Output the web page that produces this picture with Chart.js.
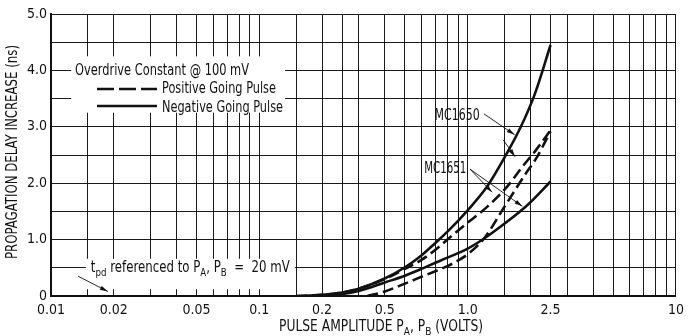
<!DOCTYPE html>
<html><head><meta charset="utf-8">
<script src="https://cdn.jsdelivr.net/npm/chart.js@4.4.1/dist/chart.umd.min.js"></script>
<style>html,body{margin:0;padding:0;background:#fff;}#wrap{width:690px;height:336px;}</style>
</head><body><div id="wrap"><canvas id="c" width="690" height="336"></canvas></div>
<script>
const FONT = '"Liberation Sans Narrow","DejaVu Sans Condensed","Arial Narrow","Liberation Sans",Arial,sans-serif';

// ---- axis values ----
const xGridValues = [0.01,0.015,0.02,0.03,0.04,0.05,0.06,0.07,0.08,0.09,
  0.1,0.15,0.2,0.25,0.3,0.4,0.5,0.6,0.7,0.8,0.9,
  1,1.5,2,2.5,3,4,5,6,7,8,9,10];
// the reference prints "0.5" on the 0.4 gridline
const xTickValues = [0.01,0.02,0.05,0.1,0.2,0.4,1,2.5,10];
const xTickLabels = ['0.01','0.02','0.05','0.1','0.2','0.5','1.0','2.5','10'];
const yTickValues = [0,1,2,3,4,5];
const yTickLabels = ['0','1.0','2.0','3.0','4.0','5.0'];

// ---- series ----
const mc1650NegX = [0.15,0.2,0.25,0.3,0.4,0.5,0.6,0.7,0.8,1.0,1.24,1.5,1.8,2.1,2.5];
const mc1650NegY = [0,0.02,0.06,0.13,0.31,0.51,0.72,0.94,1.14,1.52,1.94,2.45,3.0,3.58,4.45];
const mc1650PosX = [0.15,0.2,0.25,0.3,0.4,0.5,0.6,0.7,0.86,1.0,1.24,1.54,1.82,2.14,2.5];
const mc1650PosY = [0,0.02,0.06,0.13,0.3,0.48,0.64,0.82,1.1,1.3,1.58,1.93,2.28,2.6,2.94];
const mc1651NegX = [0.22,0.3,0.4,0.5,0.6,0.7,0.8,1.0,1.2,1.5,1.92,2.5];
const mc1651NegY = [0,0.09,0.24,0.36,0.48,0.59,0.68,0.84,1.02,1.28,1.6,2.03];
const mc1651PosX = [0.33,0.4,0.5,0.6,0.7,0.8,0.9,1.0,1.2,1.5,1.9,2.14,2.5];
const mc1651PosY = [0,0.08,0.22,0.34,0.44,0.53,0.63,0.74,1.02,1.58,2.17,2.45,2.92];

// ---- annotations (data coordinates) ----
const mc1650Label = {text:'MC1650', x:0.89, y:3.21};
const mc1650Arrows = [[[1.196,3.23],[1.68,2.86]], [[1.48,2.77],[1.69,2.47]]];
const mc1651Label = {text:'MC1651', x:0.78, y:2.27};
const mc1651Arrows = [[[1.026,2.25],[1.31,1.84]], [[1.026,2.25],[1.83,1.59]]];
const tpdArrow = [[0.0135,0.35],[0.01875,0.08]];
const legendBox = {x0:0.0125, x1:0.133, y0:3.25, y1:4.25};
const noteBox = {x0:0.0147, x1:0.148, y0:0.12, y1:0.66};

const pts = (xs, ys) => xs.map((x,i)=>({x, y:ys[i]}));
const lineDs = (label, xs, ys, dashed) => ({
  label, data: pts(xs,ys), borderColor:'#111', borderWidth:2.6,
  borderDash: dashed ? [11,5] : [], pointRadius:0, fill:false,
  cubicInterpolationMode:'monotone', borderCapStyle:'butt'
});

function segWidth(ctx, segs, size){
  let w=0;
  for(const s of segs){ ctx.font = (s.sub? Math.round(size*0.75): size)+'px '+FONT; w+=ctx.measureText(s.t).width; }
  return w;
}
function drawSegs(ctx, segs, x, y, size, targetW, align){
  const nat = segWidth(ctx, segs, size);
  const sc = targetW ? targetW/nat : 1;
  const tot = nat*sc;
  let sx = align==='center' ? x - tot/2 : (align==='right' ? x - tot : x);
  ctx.save();
  ctx.translate(sx, y);
  ctx.scale(sc,1);
  ctx.fillStyle='#111';
  ctx.textBaseline='alphabetic';
  ctx.textAlign='left';
  let cx=0;
  for(const s of segs){
    ctx.font = (s.sub? Math.round(size*0.75): size)+'px '+FONT;
    ctx.fillText(s.t, cx, s.sub ? 4 : 0);
    cx += ctx.measureText(s.t).width;
  }
  ctx.restore();
}
function arrow(ctx, x0,y0,x1,y1){
  ctx.save();
  ctx.strokeStyle='#111'; ctx.fillStyle='#111'; ctx.lineWidth=0.9; ctx.setLineDash([]);
  ctx.beginPath(); ctx.moveTo(x0,y0); ctx.lineTo(x1,y1); ctx.stroke();
  const a=Math.atan2(y1-y0,x1-x0), L=8, W=2.2;
  ctx.beginPath();
  ctx.moveTo(x1,y1);
  ctx.lineTo(x1-L*Math.cos(a)+W*Math.sin(a), y1-L*Math.sin(a)-W*Math.cos(a));
  ctx.lineTo(x1-L*Math.cos(a)-W*Math.sin(a), y1-L*Math.sin(a)+W*Math.cos(a));
  ctx.closePath(); ctx.fill();
  ctx.restore();
}

const decor = {
  id:'decor',
  beforeDatasetsDraw(chart){
    const {ctx, scales:{x,y}} = chart;
    ctx.save(); ctx.fillStyle='#fff';
    for(const b of [legendBox, noteBox]){
      const l=x.getPixelForValue(b.x0), r=x.getPixelForValue(b.x1);
      const t=y.getPixelForValue(b.y1), bt=y.getPixelForValue(b.y0);
      ctx.fillRect(l,t,r-l,bt-t);
    }
    ctx.restore();
  },
  afterDraw(chart){
    const {ctx, chartArea:ca, scales:{x,y}} = chart;
    const P=(v)=>[x.getPixelForValue(v[0]), y.getPixelForValue(v[1])];
    // legend
    drawSegs(ctx,[{t:'Overdrive Constant @ 100 mV'}], ca.left+24, 75, 15, 174, 'left');
    ctx.save(); ctx.strokeStyle='#111'; ctx.lineWidth=2.6;
    ctx.setLineDash([17,5]); ctx.beginPath(); ctx.moveTo(ca.left+46,89); ctx.lineTo(ca.left+106,89); ctx.stroke();
    ctx.setLineDash([]); ctx.beginPath(); ctx.moveTo(ca.left+46,106); ctx.lineTo(ca.left+106,106); ctx.stroke();
    ctx.restore();
    drawSegs(ctx,[{t:'Positive Going Pulse'}], ca.left+111, 93, 15, 114, 'left');
    drawSegs(ctx,[{t:'Negative Going Pulse'}], ca.left+111, 112, 15, 121, 'left');
    // curve labels
    let p=P([mc1650Label.x, mc1650Label.y]);
    drawSegs(ctx,[{t:mc1650Label.text}], p[0], p[1]+5, 15, 45, 'center');
    for(const a of mc1650Arrows){ const s=P(a[0]), e=P(a[1]); arrow(ctx,s[0],s[1],e[0],e[1]); }
    p=P([mc1651Label.x, mc1651Label.y]);
    drawSegs(ctx,[{t:mc1651Label.text}], p[0], p[1]+5, 15, 42, 'center');
    for(const a of mc1651Arrows){ const s=P(a[0]), e=P(a[1]); arrow(ctx,s[0],s[1],e[0],e[1]); }
    // tpd note
    const n0=P([noteBox.x0,0.42]);
    drawSegs(ctx,[{t:'t'},{t:'pd',sub:true},{t:' referenced to P'},{t:'A',sub:true},{t:', P'},{t:'B',sub:true},{t:'  =  20 mV'}], n0[0]+5, n0[1], 15, 199, 'left');
    { const s=P(tpdArrow[0]), e=P(tpdArrow[1]); arrow(ctx,s[0],s[1],e[0],e[1]); }
    // axis titles
    drawSegs(ctx,[{t:'PULSE AMPLITUDE P'},{t:'A',sub:true},{t:', P'},{t:'B',sub:true},{t:' (VOLTS)'}], 381, 331, 15, 204, 'center');
    ctx.save(); ctx.translate(17, (ca.top+ca.bottom)/2 - 3); ctx.rotate(-Math.PI/2);
    drawSegs(ctx,[{t:'PROPAGATION DELAY INCREASE (ns)'}], 0, 0, 15, 214, 'center');
    ctx.restore();
  }
};

new Chart(document.getElementById('c'), {
  type:'line',
  data:{ datasets:[
    lineDs('MC1650 Negative Going Pulse', mc1650NegX, mc1650NegY, false),
    lineDs('MC1650 Positive Going Pulse', mc1650PosX, mc1650PosY, true),
    lineDs('MC1651 Negative Going Pulse', mc1651NegX, mc1651NegY, false),
    lineDs('MC1651 Positive Going Pulse', mc1651PosX, mc1651PosY, true)
  ]},
  options:{
    responsive:false, animation:false, devicePixelRatio:1,
    layout:{padding:{left:0,right:9,top:14,bottom:0}},
    plugins:{legend:{display:false}, tooltip:{enabled:false}},
    scales:{
      x:{ type:'logarithmic', min:0.01, max:10,
        afterBuildTicks:(s)=>{ s.ticks = xGridValues.map(v=>({value:v})); },
        afterFit:(s)=>{ s.height = 40; },
        ticks:{ autoSkip:false, maxRotation:0, minRotation:0, padding:6, color:'#111',
          font:{family:FONT, size:14},
          callback:(v)=>{ const i = xTickValues.findIndex(t=>Math.abs(t-v)<1e-9); return i>=0 ? xTickLabels[i] : ''; } },
        grid:{ color:'#1a1a1a', lineWidth:1, drawTicks:false },
        border:{ color:'#111', width:2 }
      },
      y:{ type:'linear', min:0, max:5,
        afterBuildTicks:(s)=>{ const t=[]; for(let v=0; v<=5.0001; v+=0.5) t.push({value:Math.round(v*10)/10}); s.ticks=t; },
        afterFit:(s)=>{ s.width = 51; },
        ticks:{ padding:4, color:'#111', font:{family:FONT, size:14},
          callback:(v)=>{ const i = yTickValues.findIndex(t=>Math.abs(t-v)<1e-9); return i>=0 ? yTickLabels[i] : ''; } },
        grid:{ color:'#1a1a1a', lineWidth:1, drawTicks:false },
        border:{ color:'#111', width:2 }
      }
    }
  },
  plugins:[decor]
});
</script></body></html>
